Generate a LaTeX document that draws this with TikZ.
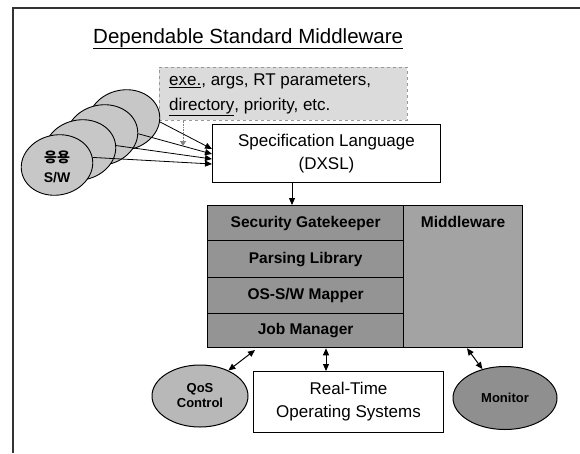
\documentclass[tikz,border=0pt]{standalone}
\usepackage{fontspec}
\setmainfont{Liberation Sans}
\newfontfamily\kofont{Noto Sans CJK KR}
\usetikzlibrary{arrows.meta,shapes.geometric}

\definecolor{paramfill}{gray}{0.86}
\definecolor{appfill}{gray}{0.78}
\definecolor{layerfill}{gray}{0.58}
\definecolor{mwfill}{gray}{0.64}
\definecolor{qosfill}{gray}{0.72}
\definecolor{monfill}{gray}{0.56}

\tikzset{
  frameline/.style={line width=1.3pt, black!80},
  paramsbox/.style={draw=gray!80, dashed, fill=paramfill, line width=0.6pt,
    inner sep=0pt, anchor=north west},
  plainbox/.style={draw, fill=white, line width=1pt, inner sep=0pt,
    anchor=north west, align=center, font=\fontsize{17}{23}\selectfont},
  layer/.style={draw, fill=layerfill, line width=1.3pt, inner sep=0pt,
    anchor=north west, minimum width=196pt,
    font=\bfseries\fontsize{15.5}{16}\selectfont},
  appell/.style={ellipse, draw, fill=appfill, line width=0.9pt,
    minimum width=72pt, minimum height=60pt, inner sep=0pt, rotate=12},
  roleell/.style={ellipse, draw, line width=1pt, inner sep=0pt, align=center,
    font=\bfseries\fontsize{13}{15}\selectfont},
  tip/.style={-{Triangle[length=7pt,width=6pt]}, line width=0.8pt},
  twotip/.style={{Triangle[length=7pt,width=6pt]}-{Triangle[length=7pt,width=6pt]},
    line width=1pt},
}

\begin{document}
\begin{tikzpicture}[x=1pt,y=-1pt]
\useasboundingbox (0,0) rectangle (580,453);

% page frame
\draw[frameline] (13,453) -- (13,8) -- (580,8);

% title
\node[anchor=base west, inner sep=0pt] (title) at (93,43)
  {\fontsize{20.5}{22}\selectfont\underline{Dependable Standard Middleware}};

% parameter note
\node[paramsbox, minimum width=248pt, minimum height=53pt] (params) at (159,67) {};
\node[anchor=west, align=left, inner sep=0pt, font=\fontsize{17}{25}\selectfont]
  (paramtext) at (169,95)
  {\underline{exe.}, args, RT parameters,\\\underline{directory}, priority, etc.};

% specification language
\node[plainbox, minimum width=228pt, minimum height=58pt] (spec) at (212,124)
  {Specification Language\\(DXSL)};

% application programs, back to front
\node[appell] (app4) at (124,120) {};
\node[appell] (app3) at (102,135) {};
\node[appell] (app2) at (80,150) {};
\node[appell] (app1) at (57,165) {};
\node[align=center, inner sep=0pt, font=\bfseries\fontsize{14}{20}\selectfont]
  (apptext) at (57,167) {{\kofont 응용}\\S/W};

% arrows into the specification
\coordinate (t4) at (212,149);
\coordinate (t3) at (212,154);
\coordinate (t2) at (212,159);
\coordinate (t1) at (212,164);
\draw[tip] (app4.-15) -- (t4);
\draw[tip] (app3.-10) -- (t3);
\draw[tip] (app2.-5) -- (t2);
\draw[tip] (app1.0) -- (t1);
\coordinate (pdrop) at (183,146);
\draw[densely dotted, gray, line width=0.6pt, -{Triangle[length=5pt,width=6pt]}]
  (params.south -| pdrop) -- (pdrop);

% middleware stack
\node[layer, minimum height=35pt] (sg) at (207,205) {Security Gatekeeper};
\node[layer, minimum height=37pt] (pl) at (207,240) {Parsing Library};
\node[layer, minimum height=36pt] (om) at (207,277) {OS-S/W Mapper};
\node[layer, minimum height=34pt] (jm) at (207,313) {Job Manager};
\node[draw, fill=mwfill, line width=1.3pt, inner sep=0pt, anchor=north west,
  minimum width=119pt, minimum height=142pt] (mw) at (403,205) {};
\node[anchor=north, inner sep=0pt, font=\bfseries\fontsize{15.5}{16}\selectfont]
  (mwtext) at ([yshift=-11pt]mw.north) {Middleware};

\coordinate (specx) at (292,0);
\draw[tip] (spec.south -| specx) -- (sg.north -| specx);

% bottom row
\node[roleell, fill=qosfill, minimum width=96pt, minimum height=62pt]
  (qos) at (200,396) {QoS\\Control};
\node[plainbox, minimum width=190pt, minimum height=61pt] (rtos) at (253,371)
  {Real-Time\\Operating Systems};
\node[roleell, fill=monfill, minimum width=104pt, minimum height=63pt]
  (mon) at (505,398) {Monitor};

\coordinate (qx) at (255,350);
\coordinate (rx) at (326,0);
\coordinate (mx) at (467,0);
\draw[twotip] (qos.42) -- (qx);
\draw[twotip] (rtos.north -| rx) -- (jm.south -| rx);
\draw[twotip] (mw.south -| mx) -- (mon.128);
\end{tikzpicture}
\end{document}
